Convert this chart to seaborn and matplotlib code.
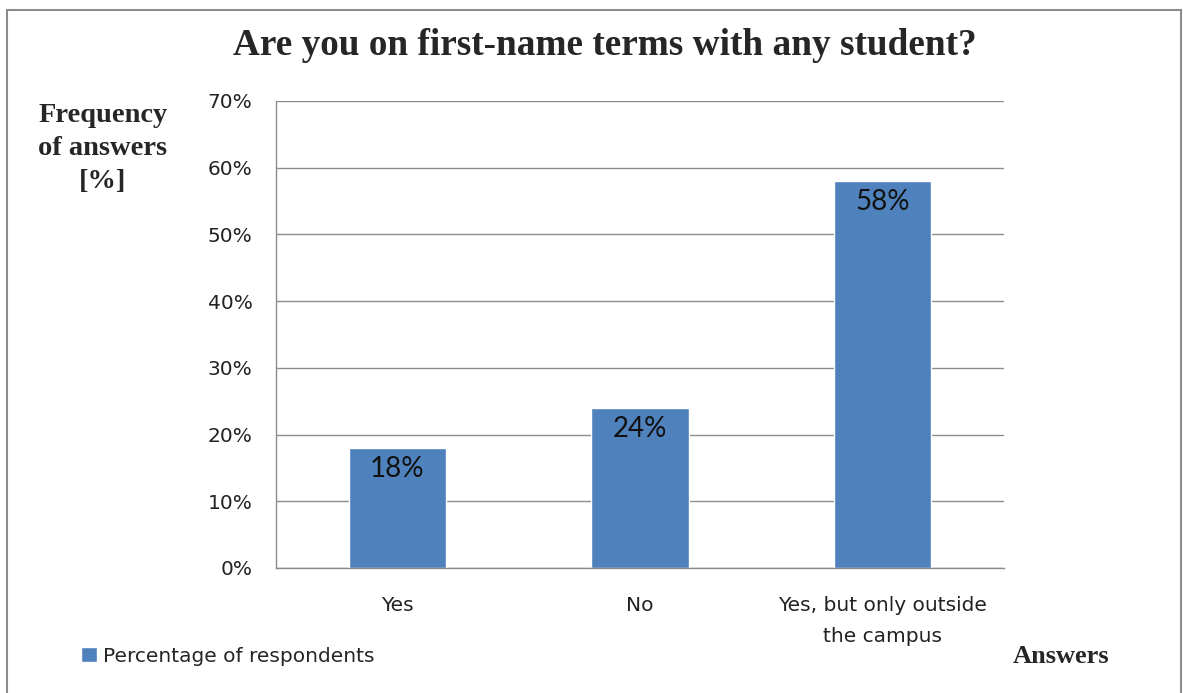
import matplotlib
matplotlib.use("Agg")
import matplotlib.pyplot as plt
from matplotlib.patches import Rectangle
from matplotlib.ticker import FixedLocator, PercentFormatter
import seaborn as sns
import pandas as pd

categories = ["Yes", "No", "Yes, but only outside\nthe campus"]
percentages = [18, 24, 58]
y_ticks = [0, 10, 20, 30, 40, 50, 60, 70]
series_name = "Percentage of respondents"

sns.set_theme(style="white")
plt.rcParams["font.family"] = ["DejaVu Sans"]

df = pd.DataFrame({"answer": categories, "pct": percentages})

fig = plt.figure(figsize=(11.83, 6.93), dpi=100)
ax = fig.add_axes([0.2333, 0.1804, 0.6154, 0.6739])

sns.barplot(data=df, x="answer", y="pct", color="#4F81BD", width=0.4,
            saturation=1, ax=ax, label=series_name)

ax.set_ylim(0, 70)
ax.set_xlim(-0.5, 2.5)
ax.set_yticks(y_ticks)
ax.yaxis.set_major_formatter(PercentFormatter(decimals=0))
ax.grid(axis="y", color="#8c8c8c", linewidth=1.0)
ax.set_axisbelow(True)

for side in ["top", "right"]:
    ax.spines[side].set_visible(False)
for side in ["left", "bottom"]:
    ax.spines[side].set_color("#8c8c8c")
    ax.spines[side].set_linewidth(1.0)

ax.tick_params(axis="y", which="major", length=8, width=1, color="#8c8c8c",
               direction="out", labelsize=14.5, labelcolor="#222222", pad=9)
ax.tick_params(axis="x", which="major", length=0, labelsize=14.5,
               labelcolor="#222222", pad=20)
for lbl in ax.get_xticklabels():
    lbl.set_linespacing(1.8)
ax.xaxis.set_minor_locator(FixedLocator([-0.5, 0.5, 1.5, 2.5]))
ax.tick_params(axis="x", which="minor", length=8, width=1, color="#8c8c8c",
               direction="out")
ax.set_xlabel("")
ax.set_ylabel("")

for i, v in enumerate(percentages):
    ax.annotate(f"{v}%", xy=(i, v), xytext=(0, -6), textcoords="offset points",
                ha="center", va="top", fontsize=20, family="Lato",
                color="#111111")

fig.text(0.511, 0.934, "Are you on first-name terms with any student?",
         ha="center", va="center", fontsize=26.8, fontweight="bold",
         family="Liberation Serif")
fig.text(0.087, 0.786, "Frequency\nof answers\n[%]", ha="center", va="center",
         fontsize=20.5, fontweight="bold", family="Liberation Serif",
         linespacing=1.42)
fig.text(0.897, 0.052, "Answers", ha="center", va="center", fontsize=19,
         fontweight="bold", family="Liberation Serif")

leg = ax.legend(loc="lower left", bbox_to_anchor=(0.062, 0.028),
                bbox_transform=fig.transFigure, frameon=False, fontsize=14.5,
                handlelength=0.75, handleheight=0.75, handletextpad=0.3,
                borderaxespad=0)

fig.patches.append(Rectangle((0.006, -0.01), 0.992, 0.995,
                             transform=fig.transFigure, fill=False,
                             edgecolor="#8c8c8c", linewidth=1.5))

fig.savefig("out.png", dpi=100)
